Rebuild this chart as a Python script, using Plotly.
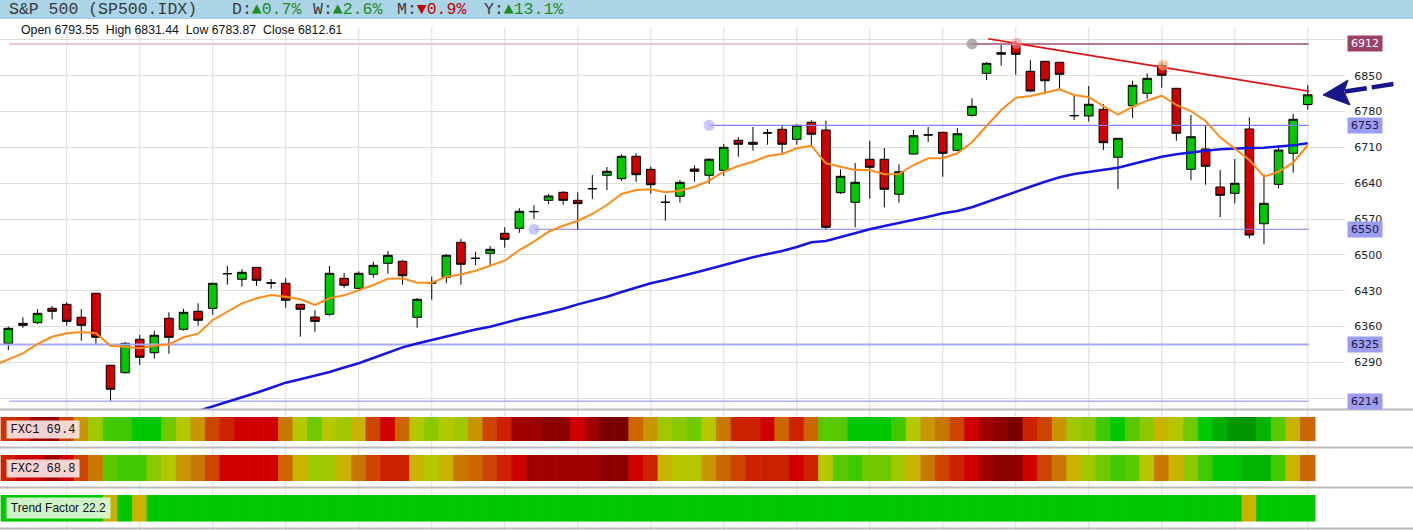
import plotly.graph_objects as go

W, H = 1413, 530

# ---------------- data ----------------
idx = list(range(90))
opens = [6327.1, 6366.2, 6367.4, 6395.5, 6403.3, 6378.0, 6424.8, 6284.2, 6269.7, 6335.0,
         6308.8, 6376.0, 6354.5, 6389.7, 6395.5, 6463.5, 6452.2, 6475.6, 6445.5, 6444.4,
         6403.3, 6378.5, 6383.8, 6454.1, 6434.6, 6462.0, 6483.5, 6487.4, 6377.9, 6446.0,
         6456.1, 6524.5, 6493.5, 6503.0, 6542.1, 6551.8, 6584.8, 6606.5, 6622.2, 6606.5,
         6629.5, 6655.4, 6648.8, 6692.5, 6667.1, 6603.0, 6614.4, 6667.7, 6655.4, 6665.2,
         6723.8, 6719.9, 6738.5, 6745.3, 6725.7, 6759.0, 6743.9, 6621.4, 6602.6, 6686.7,
         6686.7, 6618.3, 6697.0, 6734.5, 6739.4, 6704.2, 6772.6, 6854.7, 6895.0, 6912.0,
         6858.6, 6878.1, 6876.2, 6772.3, 6771.3, 6784.3, 6690.6, 6791.4, 6815.6, 6870.3,
         6825.4, 6667.1, 6706.8, 6632.5, 6620.2, 6745.9, 6560.8, 6637.8, 6698.4, 6793.55]
highs = [6359.6, 6378.0, 6394.0, 6400.0, 6407.3, 6394.0, 6426.0, 6285.0, 6329.7, 6343.4,
         6351.8, 6387.7, 6394.7, 6405.3, 6445.0, 6478.2, 6472.3, 6476.0, 6452.8, 6454.1,
         6404.5, 6391.6, 6478.2, 6464.5, 6467.8, 6486.6, 6507.5, 6490.0, 6415.6, 6457.3,
         6501.6, 6531.0, 6506.0, 6517.3, 6553.8, 6590.9, 6597.3, 6618.9, 6624.1, 6622.2,
         6656.0, 6671.6, 6696.4, 6698.4, 6672.2, 6616.9, 6646.2, 6674.9, 6688.6, 6716.6,
         6730.2, 6749.8, 6745.9, 6753.1, 6755.0, 6762.9, 6762.1, 6667.1, 6679.4, 6723.0,
         6708.7, 6676.9, 6743.9, 6749.8, 6740.0, 6747.8, 6805.8, 6876.2, 6914.5, 6917.8,
         6880.1, 6878.5, 6877.0, 6812.3, 6829.9, 6794.7, 6728.0, 6840.2, 6854.7, 6876.2,
         6826.0, 6773.2, 6752.3, 6665.8, 6687.2, 6768.7, 6657.3, 6714.6, 6775.2, 6831.44]
lows = [6314.0, 6357.6, 6364.8, 6374.0, 6361.5, 6332.0, 6323.8, 6212.4, 6267.7, 6284.7,
        6297.0, 6306.8, 6351.8, 6361.5, 6383.0, 6441.6, 6437.7, 6439.7, 6433.8, 6396.7,
        6340.0, 6349.8, 6381.0, 6435.8, 6432.6, 6455.3, 6463.0, 6441.6, 6357.6, 6412.3,
        6444.4, 6441.6, 6480.0, 6480.0, 6513.9, 6543.0, 6570.0, 6599.3, 6598.0, 6548.5,
        6609.0, 6626.7, 6644.0, 6642.3, 6619.4, 6566.7, 6601.9, 6642.9, 6639.0, 6654.6,
        6691.7, 6703.5, 6715.2, 6698.4, 6715.2, 6714.0, 6548.5, 6618.9, 6553.8, 6609.7,
        6592.9, 6601.9, 6695.6, 6720.5, 6652.7, 6702.3, 6769.9, 6841.6, 6869.5, 6852.0,
        6818.2, 6813.7, 6822.0, 6763.4, 6760.1, 6704.8, 6628.6, 6767.4, 6804.5, 6826.6,
        6723.0, 6645.6, 6637.0, 6573.3, 6600.7, 6532.3, 6520.6, 6630.0, 6660.5, 6783.87]
closes = [6356.4, 6362.3, 6385.7, 6389.7, 6370.0, 6362.3, 6338.9, 6237.3, 6327.1, 6299.8,
          6342.8, 6338.9, 6387.7, 6372.1, 6444.4, 6463.0, 6465.9, 6450.2, 6444.5, 6411.2,
          6393.6, 6370.0, 6463.9, 6440.5, 6463.9, 6479.5, 6499.1, 6459.2, 6413.1, 6445.0,
          6499.1, 6481.5, 6493.0, 6510.8, 6530.3, 6585.0, 6584.3, 6615.0, 6606.5, 6600.0,
          6629.0, 6663.2, 6692.5, 6656.6, 6637.0, 6602.5, 6641.7, 6663.2, 6686.7, 6710.1,
          6716.0, 6716.0, 6738.0, 6716.0, 6753.1, 6735.5, 6553.8, 6653.4, 6641.7, 6671.0,
          6628.0, 6662.4, 6732.8, 6734.1, 6698.4, 6736.7, 6790.2, 6874.2, 6892.0, 6891.8,
          6820.1, 6840.2, 6852.7, 6771.8, 6794.1, 6719.1, 6727.7, 6831.2, 6844.9, 6850.8,
          6737.5, 6730.8, 6673.0, 6616.3, 6639.8, 6538.7, 6600.7, 6704.8, 6764.8, 6812.61]

# orange (fast) average, starting at index -1
ma_fast = [6283.8, 6295.9, 6307.6, 6325.8, 6340.0, 6346.7, 6349.2, 6346.7, 6322.4, 6320.5,
           6317.4, 6322.4, 6325.2, 6338.9, 6345.9, 6372.7, 6388.9, 6405.3, 6415.1, 6421.5,
           6418.2, 6413.1, 6402.0, 6415.1, 6420.9, 6431.3, 6441.0, 6453.4, 6454.1, 6445.5,
           6445.5, 6457.3, 6461.6, 6469.0, 6478.2, 6488.5, 6509.4, 6525.7, 6545.2, 6556.9,
           6566.7, 6579.8, 6597.4, 6618.9, 6626.7, 6628.0, 6622.2, 6625.3, 6633.1, 6644.8,
           6662.4, 6673.6, 6682.0, 6693.1, 6697.0, 6708.1, 6713.2, 6678.8, 6672.2, 6665.7,
           6665.7, 6657.3, 6657.9, 6675.5, 6688.6, 6688.6, 6698.4, 6719.9, 6751.7, 6783.0,
           6807.0, 6810.3, 6816.8, 6823.4, 6812.3, 6807.8, 6790.8, 6773.8, 6789.4, 6801.2,
           6810.9, 6792.8, 6781.0, 6761.5, 6729.6, 6708.1, 6685.3, 6652.7, 6662.4, 6680.0,
           6714.6]
ma_fast_x = list(range(-1, -1 + len(ma_fast)))

# blue (slow) average, starting at index 13
ma_slow = [6194.9, 6203.7, 6212.4, 6221.2, 6230.6, 6240.4, 6250.2, 6256.8, 6263.2, 6271.1,
           6279.9, 6288.1, 6298.4, 6308.8, 6319.3, 6326.8, 6333.6, 6341.4, 6348.2, 6354.1,
           6359.6, 6367.4, 6374.6, 6381.1, 6387.7, 6394.7, 6403.3, 6410.4, 6418.2, 6427.4,
           6435.8, 6444.4, 6450.8, 6457.3, 6465.1, 6472.3, 6480.1, 6487.9, 6495.2, 6501.6,
           6507.5, 6515.3, 6524.5, 6527.0, 6534.8, 6542.1, 6549.9, 6556.3, 6562.2, 6567.5,
           6574.5, 6581.1, 6585.6, 6592.9, 6603.2, 6613.6, 6623.3, 6633.1, 6642.9, 6651.5,
           6657.9, 6662.4, 6665.7, 6670.2, 6677.5, 6685.3, 6691.7, 6696.4, 6700.3, 6703.5,
           6706.2, 6708.1, 6708.7, 6709.3, 6711.3, 6714.0, 6717.9]
ma_slow_x = list(range(13, 13 + len(ma_slow)))

# horizontal levels
level_vals = [6912, 6753, 6550, 6325, 6214]
level_start = [66, 48, 36, -0.6, 0.05]
level_end = 89.07
level_labels = ["6912", "6753", "6550", "6325", "6214"]

# resistance trend line (two anchor points)
trend_x = [67.1, 89.1]
trend_y = [6922.2, 6819.6]

# touch points
touch_x = [66, 69.07, 79.1, 48, 36]
touch_y = [6912, 6913.3, 6870.9, 6753, 6550]

price_ticks = [6220, 6290, 6360, 6430, 6500, 6570, 6640, 6710, 6780, 6850, 6920]
grid_idx = list(range(4, 90, 5))

fxc1_colors = [
    "#CC3300", "#CC2200", "#A00000", "#980000", "#CC4400", "#C89600", "#A0C800", "#40C800", "#40C800", "#00C800",
    "#00C800", "#70C800", "#B4C800", "#C89600", "#CC4400", "#CC2200", "#D00000", "#D00000", "#D00000", "#C87800",
    "#B4C800", "#70C800", "#B4C800", "#A0C800", "#C8B400", "#CC4400", "#D00000", "#CC6600", "#B4C800", "#8CC800",
    "#B4C800", "#A0C800", "#C89600", "#CC4400", "#CC2200", "#A00000", "#A00000", "#8C0000", "#8C0000", "#D00000",
    "#A00000", "#7A0000", "#7A0000", "#CC6600", "#C89600", "#A0C800", "#8CC800", "#70C800", "#B4C800", "#C87800",
    "#CC2200", "#CC2200", "#D00000", "#CC6600", "#CC2200", "#CC6600", "#58C800", "#58C800", "#00C800", "#00C800",
    "#00C800", "#40C800", "#B4C800", "#C89600", "#C87800", "#CC4400", "#D00000", "#A00000", "#8C0000", "#7A0000",
    "#CC2200", "#CC4400", "#C89600", "#A0C800", "#8CC800", "#40C800", "#00C800", "#58C800", "#8CC800", "#C8B400",
    "#B4C800", "#70C800", "#00C800", "#00B000", "#009600", "#009600", "#00B400", "#58C800", "#C8B400", "#CC6600"]
fxc2_colors = [
    "#CC2200", "#D00000", "#D00000", "#A00000", "#D00000", "#CC4400", "#C87800", "#58C800", "#40C800", "#40C800",
    "#8CC800", "#B4C800", "#C89600", "#C87800", "#CC4400", "#D00000", "#D00000", "#D00000", "#D00000", "#CC6600",
    "#C8B400", "#A0C800", "#A0C800", "#C8B400", "#C87800", "#CC4400", "#CC2200", "#CC2200", "#C8B400", "#B4C800",
    "#C8B400", "#C87800", "#CC6600", "#CC4400", "#CC2200", "#D00000", "#A00000", "#A00000", "#A00000", "#A00000",
    "#A00000", "#8C0000", "#8C0000", "#D00000", "#CC2200", "#C8B400", "#B4C800", "#B4C800", "#C89600", "#CC6600",
    "#CC4400", "#CC2200", "#CC2200", "#CC2200", "#D00000", "#CC2200", "#B4C800", "#58C800", "#40C800", "#70C800",
    "#70C800", "#A0C800", "#C8B400", "#C87800", "#CC4400", "#CC2200", "#D00000", "#A00000", "#8C0000", "#8C0000",
    "#D00000", "#CC4400", "#C87800", "#C8B400", "#A0C800", "#70C800", "#40C800", "#58C800", "#B4C800", "#C87800",
    "#C8B400", "#8CC800", "#40C800", "#00C800", "#00C800", "#00B400", "#00B400", "#40C800", "#C8B400", "#CC6600"]
trend_colors = ["#C8B400" if i in (7, 9, 85) else "#00C800" for i in idx]

header_parts = [("S&amp;P 500 (SP500.IDX)", None, None, 9),
                ("D:", "▲0.7%", "#1E8C1E", 232),
                ("W:", "▲2.6%", "#1E8C1E", 313),
                ("M:", "▼0.9%", "#C00000", 397),
                ("Y:", "▲13.1%", "#1E8C1E", 484)]
NB = "\u00a0"
ohlc_text = ("Open 6793.55" + NB * 2 + "High 6831.44" + NB * 2 + "Low 6783.87" + NB * 2 + "Close 6812.61")

# ---------------- helpers (pixel -> paper) ----------------
def px(x):
    return x / W

def py(y):
    return 1 - y / H

XR = [-0.57, 91.55]
XDOM = [0, 1345 / W]

fig = go.Figure()

# level lines (under candles)
lv_styles = [
    dict(color="#B87898", width=2),
    dict(color="#8080FF", width=1.2),
    dict(color="#8080FF", width=1.2),
    dict(color="#A8A8FF", width=2),
    dict(color="#B0B0FA", width=1.5),
]
# faint left part of the 6912 level
fig.add_trace(go.Scatter(x=[0.05, level_start[0]], y=[level_vals[0]] * 2, mode="lines",
                         line=dict(color="#EBCBD3", width=2), hoverinfo="skip", showlegend=False))
for v, s, st in zip(level_vals, level_start, lv_styles):
    fig.add_trace(go.Scatter(x=[s, level_end], y=[v, v], mode="lines", line=st,
                             hoverinfo="skip", showlegend=False))

fig.add_trace(go.Candlestick(
    x=idx, open=opens, high=highs, low=lows, close=closes,
    increasing=dict(fillcolor="#00C800", line=dict(color="#000000", width=1)),
    decreasing=dict(fillcolor="#D00000", line=dict(color="#000000", width=1)),
    whiskerwidth=0, hoverinfo="skip", showlegend=False))

fig.add_trace(go.Scatter(x=ma_slow_x, y=ma_slow, mode="lines",
                         line=dict(color="#1515E6", width=2.5), hoverinfo="skip", showlegend=False))
fig.add_trace(go.Scatter(x=ma_fast_x, y=ma_fast, mode="lines",
                         line=dict(color="#FF8C1A", width=2), hoverinfo="skip", showlegend=False))
fig.add_trace(go.Scatter(x=trend_x, y=trend_y, mode="lines",
                         line=dict(color="#E01010", width=1.6), hoverinfo="skip", showlegend=False))
fig.add_trace(go.Scatter(x=touch_x, y=touch_y, mode="markers",
                         marker=dict(size=11, color=["rgba(150,150,150,0.75)", "rgba(240,140,140,0.6)",
                                                     "rgba(255,170,120,0.65)", "rgba(170,170,250,0.65)",
                                                     "rgba(170,170,250,0.65)"], line=dict(width=0)),
                         hoverinfo="skip", showlegend=False))

# indicator strips
for k, cols in enumerate([fxc1_colors, fxc2_colors, trend_colors], start=2):
    fig.add_trace(go.Bar(x=idx, y=[1] * len(idx), width=1, base=0,
                         marker=dict(color=cols, line=dict(width=0.8, color=cols)),
                         xaxis="x%d" % k, yaxis="y%d" % k, hoverinfo="skip", showlegend=False))

shapes = []
# header bar
shapes.append(dict(type="rect", xref="paper", yref="paper", x0=0, x1=1, y0=py(19), y1=1,
                   fillcolor="#ABD5E6", line=dict(width=0), layer="below"))
# vertical grid
for g in grid_idx:
    shapes.append(dict(type="line", xref="x", yref="paper", x0=g, x1=g, y0=0, y1=py(27),
                       line=dict(color="#DCDCE2", width=1), layer="below"))
# separators
for yy in [409.5, 447.5, 487.5, 528.5]:
    shapes.append(dict(type="line", xref="paper", yref="paper", x0=0, x1=1, y0=py(yy), y1=py(yy),
                       line=dict(color="#BBBBBB", width=2), layer="above"))
# arrow
head = "M {},{} L {},{} L {},{} L {},{} Z".format(px(1323), py(95), px(1348), py(80),
                                                 px(1344), py(91.5), px(1350), py(105))
shapes.append(dict(type="path", xref="paper", yref="paper", path=head,
                   fillcolor="#16168A", line=dict(color="#16168A", width=1), layer="above"))
shapes.append(dict(type="line", xref="paper", yref="paper", x0=px(1345), y0=py(91.5),
                   x1=px(1397), y1=py(83.5), line=dict(color="#16168A", width=4.5, dash="22px,5px"),
                   layer="above"))

annotations = []
for main, val, col, xx in header_parts:
    txt = main if val is None else main + "<span style='color:%s'>%s</span>" % (col, val)
    annotations.append(dict(text=txt, xref="paper", yref="paper", x=px(xx - 2), y=py(9.5),
                            xanchor="left", yanchor="middle", showarrow=False,
                            font=dict(family="Liberation Mono, Courier New, monospace", size=16.5,
                                      color="#3A3A3A")))
annotations.append(dict(text=ohlc_text, xref="paper", yref="paper", x=px(19), y=py(30),
                        xanchor="left", yanchor="middle", showarrow=False,
                        font=dict(family="Liberation Sans, Arial", size=12.3, color="#111111")))
# price level labels
for v, lab in zip(level_vals, level_labels):
    if v == 6912:
        bg, fc = "#9C4068", "#FFFFFF"
    else:
        bg, fc = "#9C9CF2", "#1A1A40"
    annotations.append(dict(text=lab, xref="paper", yref="y", x=px(1365), y=v,
                            xanchor="center", yanchor="middle", showarrow=False, width=32, height=13,
                            bgcolor=bg, borderpad=1,
                            font=dict(family="DejaVu Sans", size=11, color=fc)))
# indicator labels
annotations.append(dict(text="FXC1 69.4", xref="paper", yref="paper", x=px(6), y=py(429),
                        xanchor="left", yanchor="middle", showarrow=False, width=70, height=15,
                        bgcolor="rgba(248,226,226,0.93)",
                        font=dict(family="Liberation Mono, Courier New, monospace", size=12, color="#111")))
annotations.append(dict(text="FXC2 68.8", xref="paper", yref="paper", x=px(6), y=py(468),
                        xanchor="left", yanchor="middle", showarrow=False, width=70, height=15,
                        bgcolor="rgba(248,226,226,0.93)",
                        font=dict(family="Liberation Mono, Courier New, monospace", size=12, color="#111")))
annotations.append(dict(text="Trend Factor 22.2", xref="paper", yref="paper", x=px(6), y=py(508),
                        xanchor="left", yanchor="middle", showarrow=False, width=101, height=18,
                        bgcolor="rgba(218,246,212,0.95)",
                        font=dict(family="Liberation Sans, Arial", size=12, color="#111")))

ticktext = ["" if t in (6220, 6920) else str(t) for t in price_ticks]

fig.update_layout(
    width=W, height=H, margin=dict(l=0, r=0, t=0, b=0),
    paper_bgcolor="#FFFFFF", plot_bgcolor="rgba(0,0,0,0)",
    showlegend=False, boxgap=0.16, hovermode=False,
    xaxis=dict(domain=XDOM, range=XR, showgrid=False, zeroline=False, showticklabels=False,
               rangeslider=dict(visible=False), anchor="y", fixedrange=True),
    yaxis=dict(domain=[py(409.3), py(28)], range=[6198.2, 6943.2], side="right", anchor="x",
               tickvals=price_ticks, ticktext=ticktext, showgrid=True, gridcolor="#DDDDDD",
               gridwidth=1, zeroline=False, ticks="outside", ticklen=6, tickcolor="rgba(0,0,0,0)",
               tickfont=dict(family="DejaVu Sans", size=11, color="#222222"), fixedrange=True),
    xaxis2=dict(domain=XDOM, range=XR, visible=False, anchor="y2"),
    yaxis2=dict(domain=[py(441), py(417)], range=[0, 1], visible=False, anchor="x2"),
    xaxis3=dict(domain=XDOM, range=XR, visible=False, anchor="y3"),
    yaxis3=dict(domain=[py(481), py(455)], range=[0, 1], visible=False, anchor="x3"),
    xaxis4=dict(domain=XDOM, range=XR, visible=False, anchor="y4"),
    yaxis4=dict(domain=[py(521.5), py(495)], range=[0, 1], visible=False, anchor="x4"),
    shapes=shapes, annotations=annotations,
)

fig.write_html("out.html", config={"displayModeBar": False},
               post_script="document.body.style.margin='0px';document.body.style.overflow='hidden';")
